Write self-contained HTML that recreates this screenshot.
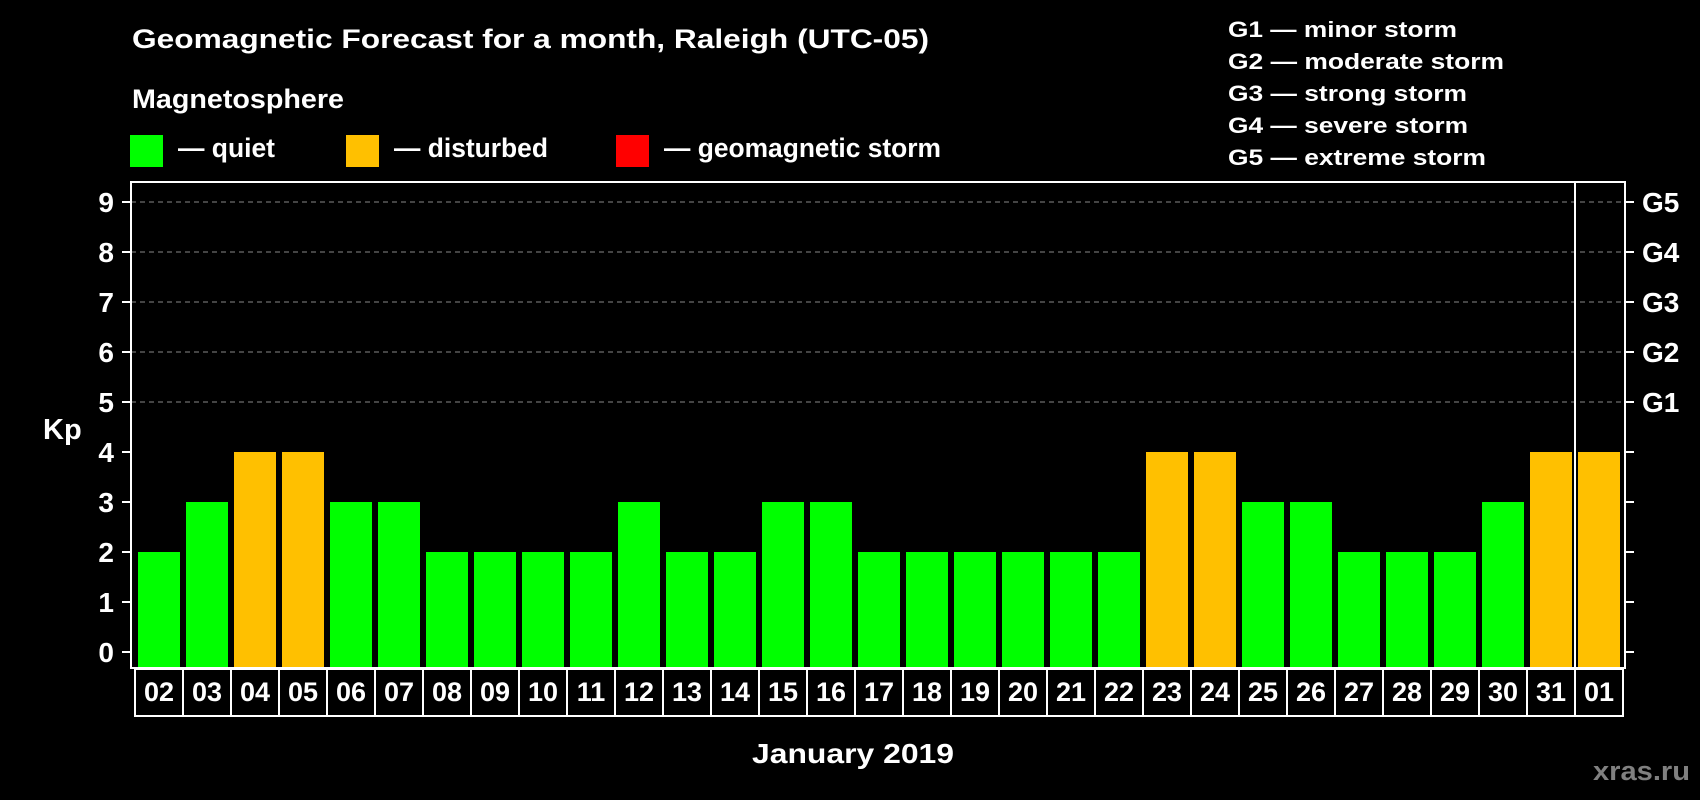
<!DOCTYPE html>
<html><head><meta charset="utf-8"><style>
html,body{margin:0;padding:0;background:#000;}
svg{display:block;font-family:"Liberation Sans",Arial,sans-serif;font-weight:bold;}
</style></head><body>
<svg id="chart" width="1700" height="800" viewBox="0 0 1700 800" xmlns="http://www.w3.org/2000/svg">
<rect width="1700" height="800" fill="#000"/>
<text x="132" y="48" fill="#fff" font-size="27" textLength="797" lengthAdjust="spacingAndGlyphs">Geomagnetic Forecast for a month, Raleigh (UTC-05)</text>
<text x="132" y="108" fill="#fff" font-size="27" textLength="212" lengthAdjust="spacingAndGlyphs">Magnetosphere</text>
<g>
<rect x="130" y="135" width="33" height="32" fill="#00ff00"/>
<text x="178" y="157" fill="#fff" font-size="27" textLength="97" lengthAdjust="spacingAndGlyphs">— quiet</text></g>
<g>
<rect x="346" y="135" width="33" height="32" fill="#ffc000"/>
<text x="394" y="157" fill="#fff" font-size="27" textLength="154" lengthAdjust="spacingAndGlyphs">— disturbed</text></g>
<g>
<rect x="616" y="135" width="33" height="32" fill="#ff0000"/>
<text x="664" y="157" fill="#fff" font-size="27" textLength="277" lengthAdjust="spacingAndGlyphs">— geomagnetic storm</text></g>
<g fill="#fff" font-size="22">
<text x="1228" y="37" textLength="229" lengthAdjust="spacingAndGlyphs">G1 — minor storm</text>
<text x="1228" y="69" textLength="276" lengthAdjust="spacingAndGlyphs">G2 — moderate storm</text>
<text x="1228" y="101" textLength="239" lengthAdjust="spacingAndGlyphs">G3 — strong storm</text>
<text x="1228" y="133" textLength="240" lengthAdjust="spacingAndGlyphs">G4 — severe storm</text>
<text x="1228" y="165" textLength="258" lengthAdjust="spacingAndGlyphs">G5 — extreme storm</text>
</g>
<text x="43" y="439" fill="#fff" font-size="29">Kp</text>
<g id="grid"></g><g id="bars"></g><g id="axes"></g><g id="labels"></g>
<text x="752" y="763" fill="#fff" font-size="28" textLength="202" lengthAdjust="spacingAndGlyphs">January 2019</text>
<text x="1593" y="780" fill="#808080" font-size="27" textLength="97" lengthAdjust="spacingAndGlyphs">xras.ru</text>
</svg>
<script>
const days = ["02","03","04","05","06","07","08","09","10","11","12","13","14","15","16","17","18","19","20","21","22","23","24","25","26","27","28","29","30","31","01"];
const kpValues = [2,3,4,4,3,3,2,2,2,2,3,2,2,3,3,2,2,2,2,2,2,4,4,3,3,2,2,2,3,4,4];
const yTicks = [0,1,2,3,4,5,6,7,8,9];
const gLabels = ["G1","G2","G3","G4","G5"];
const gLevels = [5,6,7,8,9];

const SVGNS = "http://www.w3.org/2000/svg";
const plotLeft = 131, plotRight = 1625, plotTop = 182, plotBottom = 668;
const yZero = 652, unitPx = 50, slot0 = 135, pitch = 48, barW = 42;
const yScale = v => yZero - v * unitPx;
const xScale = i => slot0 + i * pitch;
function mk(tag, attrs, parent) {
  const e = document.createElementNS(SVGNS, tag);
  for (const k in attrs) e.setAttribute(k, attrs[k]);
  parent.appendChild(e);
  return e;
}
const gGrid = document.getElementById('grid'), gBars = document.getElementById('bars'),
      gAxes = document.getElementById('axes'), gLab = document.getElementById('labels');
gLevels.forEach((v, i) => {
  const l = mk('line', {x1: plotLeft, x2: plotRight, y1: yScale(v), y2: yScale(v), stroke: '#888', 'stroke-width': 1, 'stroke-dasharray': '5,4'}, gGrid);
  
  
  const t = mk('text', {x: 1642, y: yScale(v) + 10, fill: '#fff', 'font-size': 28}, gLab);
  t.textContent = gLabels[i];
  
  
});
kpValues.forEach((v, i) => {
  const color = v >= 5 ? '#ff0000' : (v >= 4 ? '#ffc000' : '#00ff00');
  const r = mk('rect', {x: xScale(i) + 3, y: yScale(v), width: barW, height: plotBottom - yScale(v), fill: color}, gBars);
  
  
  const c = mk('rect', {x: xScale(i), y: 669, width: pitch, height: 47, fill: 'none', stroke: '#fff', 'stroke-width': 2}, gAxes);
  
  
  const t = mk('text', {x: xScale(i) + pitch / 2, y: 701, fill: '#fff', 'font-size': 27, 'text-anchor': 'middle'}, gLab);
  t.textContent = days[i];
  
  
});
const frame = mk('rect', {x: plotLeft, y: plotTop, width: plotRight - plotLeft, height: plotBottom - plotTop, fill: 'none', stroke: '#fff', 'stroke-width': 2}, gAxes);


const sep = mk('line', {x1: xScale(days.length - 1), x2: xScale(days.length - 1), y1: plotTop, y2: plotBottom, stroke: '#fff', 'stroke-width': 2}, gAxes);


yTicks.forEach(v => {
  const a = mk('line', {x1: 122, x2: plotLeft, y1: yScale(v), y2: yScale(v), stroke: '#fff', 'stroke-width': 2}, gAxes);
  
  
  const b = mk('line', {x1: plotRight, x2: 1634, y1: yScale(v), y2: yScale(v), stroke: '#fff', 'stroke-width': 2}, gAxes);
  
  
  const t = mk('text', {x: 114, y: yScale(v) + 10, fill: '#fff', 'font-size': 28, 'text-anchor': 'end'}, gLab);
  t.textContent = v;
  
  
});
</script>
</body></html>
